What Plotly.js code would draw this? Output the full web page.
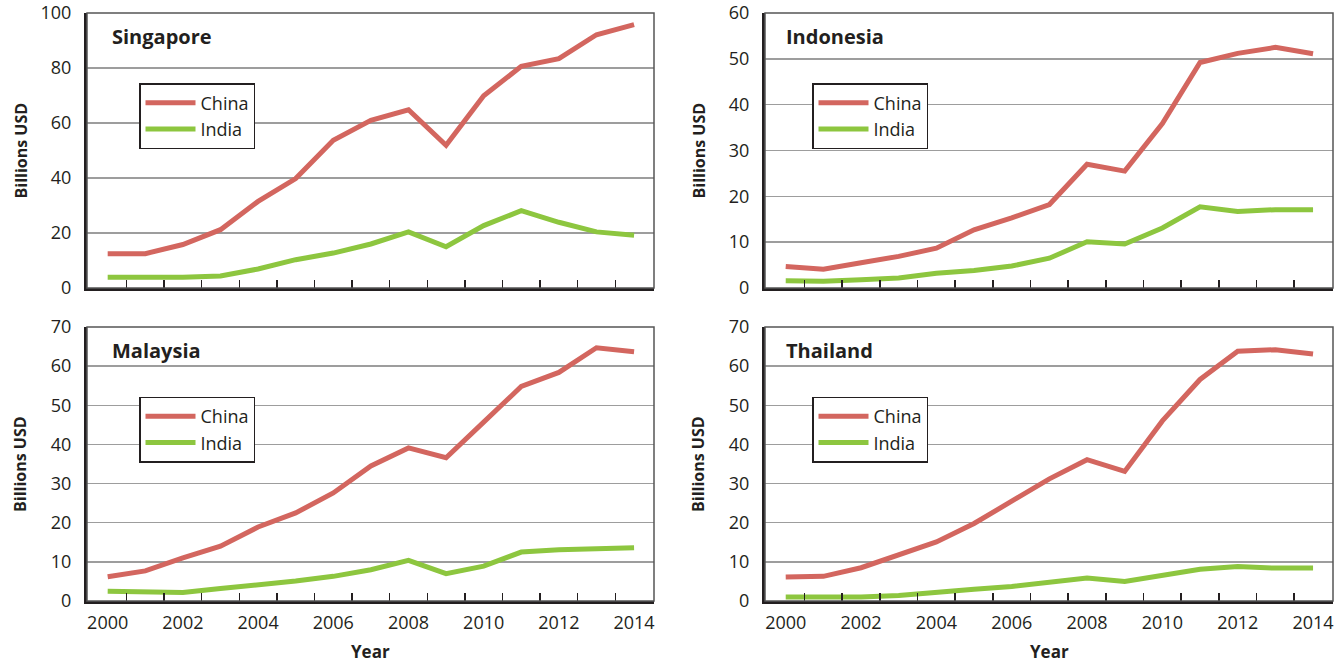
<!DOCTYPE html>
<html><head><meta charset="utf-8">
<script src="https://cdn.plot.ly/plotly-3.0.1.min.js"></script>
<style>html,body{margin:0;padding:0;background:#fff;}#chart{width:1344px;height:663px;}</style>
</head><body><div id="chart"></div>
<script>
const years = [2000,2001,2002,2003,2004,2005,2006,2007,2008,2009,2010,2011,2012,2013,2014];
const xLabelYears = [2000,2002,2004,2006,2008,2010,2012,2014];
const seriesNames = ['China','India'];
const countries = ['Singapore','Indonesia','Malaysia','Thailand'];

const singaporeChina = [12.5,12.5,15.8,21.2,31.5,39.8,53.7,61.0,64.8,51.9,69.9,80.6,83.4,92.1,95.8];
const singaporeIndia = [3.9,3.9,3.9,4.4,6.9,10.3,12.7,16.0,20.4,15.0,22.7,28.1,23.9,20.4,19.2];
const indonesiaChina = [4.7,4.1,5.5,6.9,8.7,12.7,15.3,18.2,27.0,25.5,35.9,49.2,51.2,52.5,51.1];
const indonesiaIndia = [1.6,1.5,1.8,2.2,3.2,3.8,4.8,6.5,10.1,9.6,13.1,17.7,16.7,17.1,17.1];
const malaysiaChina = [6.2,7.7,11.0,14.0,18.9,22.5,27.6,34.5,39.1,36.6,45.7,54.8,58.4,64.7,63.7];
const malaysiaIndia = [2.5,2.2,2.2,3.2,4.1,5.1,6.3,8.0,10.4,7.0,8.9,12.5,13.1,13.4,13.6];
const thailandChina = [6.1,6.3,8.5,11.8,15.1,19.8,25.5,31.2,36.1,33.1,46.0,56.6,63.8,64.2,63.1];
const thailandIndia = [1.0,1.0,1.0,1.4,2.3,3.0,3.7,4.7,5.9,5.0,6.7,8.1,8.8,8.4,8.4];

const yMax = [100,60,70,70];
const yStep = [20,10,10,10];
const yTitle = 'Billions USD';
const xTitle = 'Year';

const panelData = [
  [singaporeChina, singaporeIndia],
  [indonesiaChina, indonesiaIndia],
  [malaysiaChina, malaysiaIndia],
  [thailandChina, thailandIndia]
];

const colors = ['#d3665f', '#8dc63f'];
const ink = '#231f20';
const fontFam = '"Open Sans", "Noto Sans", sans-serif';

const W = 1344, H = 663;
const xDomains = [[87/W, 654/W],[765/W, 1333/W]];
const yDomains = [[1-288/H, 1-13/H],[1-601/H, 1-327/H]];
const minorTicks = years.slice(0,-1).map(y => y + 0.5);

const traces = [];
const layout = {
  width: W, height: H,
  margin: {l:0, r:0, t:0, b:0},
  paper_bgcolor: '#fff', plot_bgcolor: '#fff',
  font: {family: fontFam, color: ink, size: 18},
  annotations: [], shapes: []
};

countries.forEach((c, i) => {
  const sfx = i === 0 ? '' : String(i+1);
  const col = i % 2, row = Math.floor(i/2);
  const legId = i === 0 ? 'legend' : 'legend' + (i+1);
  panelData[i].forEach((vals, k) => {
    traces.push({
      type: 'scatter', mode: 'lines', x: years, y: vals,
      name: seriesNames[k], xaxis: 'x' + sfx, yaxis: 'y' + sfx,
      legend: legId,
      line: {color: colors[k], width: 5, shape: 'linear'},
      hoverinfo: 'x+y+name'
    });
  });
  layout['xaxis' + sfx] = {
    domain: xDomains[col], anchor: 'y' + sfx,
    range: [1999.45, 2014.53],
    tickmode: 'array', tickvals: xLabelYears,
    showticklabels: row === 1, ticks: '',
    tickfont: {size: 18, color: ink},
    ticklabelstandoff: 3,
    showline: true, linewidth: 3, linecolor: ink,
    showgrid: false, zeroline: false,
    minor: {tickmode: 'array', tickvals: minorTicks, ticks: 'inside', ticklen: 8, tickwidth: 1.5, tickcolor: ink, showgrid: false}
  };
  layout['yaxis' + sfx] = {
    domain: yDomains[row], anchor: 'x' + sfx,
    range: [0, yMax[i]], tickmode: 'linear', tick0: 0, dtick: yStep[i],
    ticks: '', tickfont: {size: 18, color: ink},
    ticklabelstandoff: 9,
    showline: true, linewidth: 3, linecolor: ink,
    showgrid: true, gridcolor: '#9d9d9d', gridwidth: 1.5, zeroline: false
  };
  layout.shapes.push({
    type: 'rect', xref: 'x' + sfx + ' domain', yref: 'y' + sfx + ' domain',
    x0: 0, x1: 1, y0: 0, y1: 1, line: {color: '#555', width: 1.5}, layer: 'above'
  });
  layout.annotations.push({
    text: '<b>' + c + '</b>', xref: 'x' + sfx + ' domain', yref: 'y' + sfx + ' domain',
    x: col === 0 ? 0.041 : 0.033, y: 0.915, xanchor: 'left', yanchor: 'middle',
    showarrow: false, font: {size: 20, color: ink, family: fontFam}
  });
  layout.annotations.push({
    text: '<b>' + yTitle + '</b>', xref: 'paper', yref: 'y' + sfx + ' domain',
    x: (col === 0 ? 20 : 698) / W, y: 0.5, xanchor: 'center', yanchor: 'middle',
    textangle: -90, showarrow: false, font: {size: 16, color: ink, family: fontFam}
  });
  if (row === 1) {
    layout.annotations.push({
      text: '<b>' + xTitle + '</b>', xref: 'x' + sfx + ' domain', yref: 'paper',
      x: 0.5, y: 1 - 651/H, xanchor: 'center', yanchor: 'middle',
      showarrow: false, font: {size: 17, color: ink, family: fontFam}
    });
  }
  layout[legId] = {
    x: (col === 0 ? 139 : 812) / W, y: 1 - (row === 0 ? 83 : 396.5) / H,
    xanchor: 'left', yanchor: 'top', xref: 'paper', yref: 'paper',
    bgcolor: '#fff', bordercolor: ink, borderwidth: 1.5,
    font: {size: 18, color: ink, family: fontFam},
    itemwidth: 50, entrywidth: 122, entrywidthmode: 'pixels', tracegroupgap: 0
  };
});

Plotly.newPlot('chart', traces, layout, {displayModeBar: false, staticPlot: true});
</script></body></html>
